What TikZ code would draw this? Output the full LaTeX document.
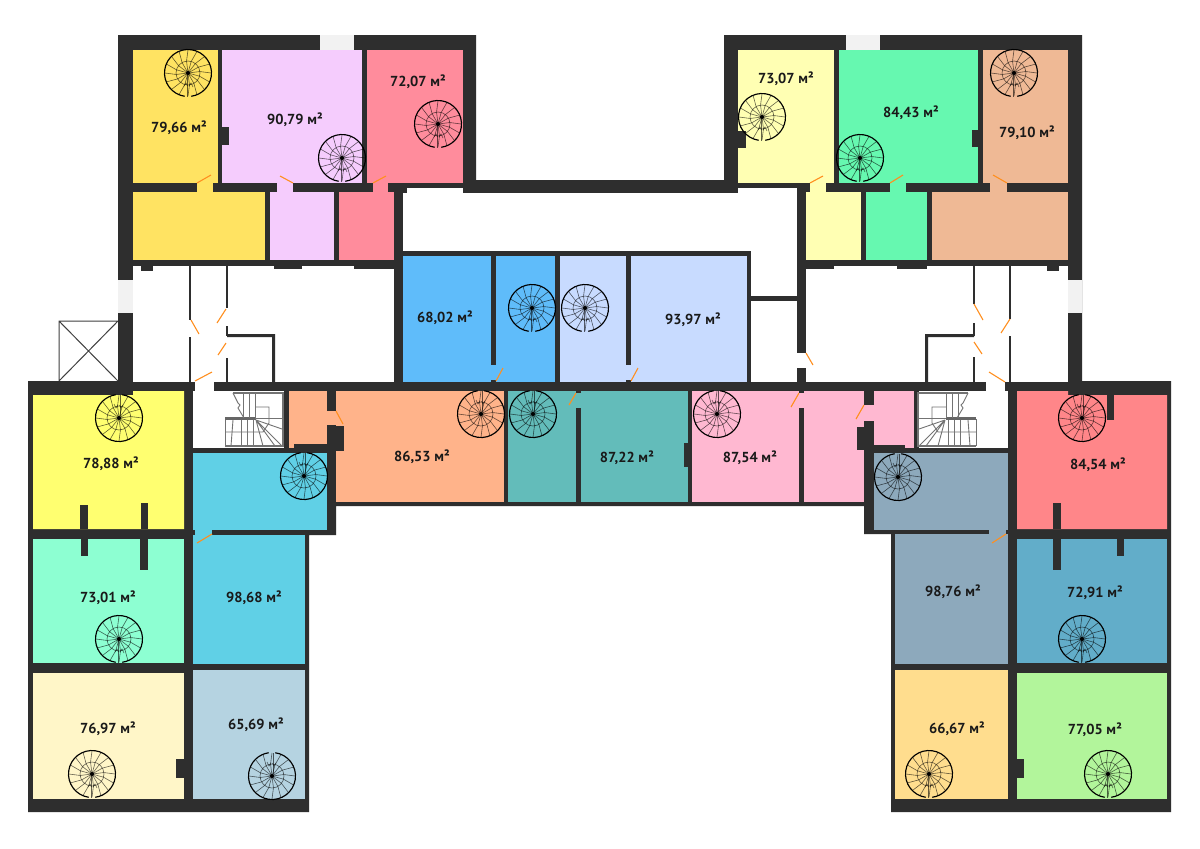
\documentclass[tikz,border=0pt]{standalone}
\usepackage{fontspec}
\setmainfont{PT Sans}
\definecolor{wall}{HTML}{2E2E2E}
\definecolor{wind}{HTML}{F2F2F2}
\definecolor{doorc}{HTML}{FF8F1F}
\definecolor{cA}{HTML}{FFE362}
\definecolor{cB}{HTML}{F5CCFD}
\definecolor{cC}{HTML}{FF8C9C}
\definecolor{cD}{HTML}{FFFFB3}
\definecolor{cE}{HTML}{66F8B0}
\definecolor{cF}{HTML}{EFB995}
\definecolor{cG}{HTML}{5FBCFA}
\definecolor{cH}{HTML}{C8DBFF}
\definecolor{cI}{HTML}{FFB38A}
\definecolor{cJ}{HTML}{63BCBA}
\definecolor{cK}{HTML}{FFB8D1}
\definecolor{cL}{HTML}{FFFF70}
\definecolor{cM}{HTML}{60D0E6}
\definecolor{cN}{HTML}{8DFFD2}
\definecolor{cO}{HTML}{FFF6C8}
\definecolor{cP}{HTML}{B5D3E1}
\definecolor{cQ}{HTML}{FF8689}
\definecolor{cR}{HTML}{8DA9BC}
\definecolor{cS}{HTML}{62ADC9}
\definecolor{cT}{HTML}{FFDD8E}
\definecolor{cU}{HTML}{B2F59B}
\tikzset{
  lab/.style={font=\fontsize{14.5}{16}\selectfont\bfseries,text=black!90,inner sep=0pt},
  doorline/.style={draw=doorc,line width=1.1pt},
  thin wall/.style={draw=wall,line width=2.2pt},
  stairline/.style={draw=black!55,line width=0.9pt},
}
\newcommand{\bx}[5]{\fill[#1] (#2,#3) rectangle (#4,#5);}
% spiral stair: centre x, y, rotation
\newcommand{\spiralstair}[3]{%
  \begin{scope}[shift={(#1,#2)},rotate=#3]
    \foreach \a in {0,22.5,...,337.5}{
      \draw[black,opacity=0.6,line width=0.6pt] (0,0) -- ({12*cos(\a-7)},{12*sin(\a-7)}) -- ({23*cos(\a)},{23*sin(\a)});
    }
    \draw[black,opacity=0.6,line width=0.6pt] (0,0) circle (12);
    \fill[black,opacity=0.0] (0,0) circle (1);
    \draw[black,line width=1.15pt] ({23.5*cos(98)},{23.5*sin(98)}) arc[start angle=98,end angle=442,radius=23.5];
    \draw[black,opacity=0.6,line width=0.6pt] (-1,2) -- (-1,23.5);
    \draw[black,opacity=0.6,line width=0.6pt] (-4,13) -- (-2,10) -- (-0.5,13) (1,13) -- (3,10) -- (5,14);
    \fill[black] (0,0) circle (2);
  \end{scope}}
% straight/winder stair in a box
\newcommand{\flatstair}[1]{%
  \begin{scope}[#1]
    \draw[stairline,line width=1.2pt] (233,393) -- (283,393) -- (283,446) -- (225,446);
    \draw[stairline] (225,419) -- (225,446);
    \draw[black!60,line width=2.4pt] (225,418.5) -- (255.5,418.5);
    \draw[stairline] (255,418.5) -- (283,418.5);
    \foreach \x in {243,249,255}{\draw[stairline] (\x,393) -- (\x,418);}
    \draw[stairline] (233,393) -- (238,403) -- (240,405) -- (238,408) -- (244,418);
    \draw[stairline] (255,407) -- (269,407) -- (269,423) -- (263,432) -- (225,432);
    \draw[stairline] (233,420) -- (231,446);
    \foreach \x in {241,247,253}{\draw[stairline] (\x,420) -- (\x,446);}
    \draw[stairline] (256,420) -- (282,429) (256,420) -- (282,446) (256,420) -- (263,446) (256,420) -- (275,446);
  \end{scope}}
\begin{document}
\begin{tikzpicture}[x=1pt,y=-1pt]
\useasboundingbox (0,0) rectangle (1200,849);
\fill[white] (0,0) rectangle (1200,849);
% balcony
\draw[black!75,line width=1pt] (118,321) -- (59,321) -- (59,381) (59,321) -- (118,381) (59,381) -- (118,321);
% silhouette
\fill[wall] (118,35) -- (476,35) -- (476,180) -- (724,180) -- (724,35) -- (1082,35) -- (1082,381) -- (1171,381) -- (1171,812) -- (891,812) -- (891,534) -- (864,534) -- (864,506) -- (336,506) -- (336,535) -- (309,535) -- (309,812) -- (28,812) -- (28,381) -- (118,381) -- cycle;
% white voids
\bx{white}{403}{193}{797}{251}
\bx{white}{407}{188}{463}{193}
\bx{white}{738}{188}{797}{193}
\bx{white}{751}{251}{797}{296}
\bx{white}{751}{300.5}{797}{382}
\bx{white}{797}{353}{806}{368}
\bx{white}{133}{266}{394}{382}
\bx{white}{806}{266}{1068}{382}
\bx{white}{195}{382}{214}{391}
\bx{white}{193}{391}{284}{448}
\bx{white}{986}{382}{1005}{391}
\bx{white}{919}{391}{1008}{448}
% windows
\bx{wind}{320}{35}{354}{50}
\bx{wind}{846}{35}{880}{50}
\bx{wind}{118}{280}{133}{313}
\bx{wind}{1068}{280}{1082}{313}
% top-left rooms
\bx{cA}{133}{50}{218}{183}
\bx{cB}{222}{50}{362}{183}
\bx{cC}{367}{50}{463}{183}
\bx{cA}{133}{192}{265}{260}
\bx{cB}{270}{192}{334}{260}
\bx{cC}{339}{192}{394}{260}
\bx{cA}{197}{183}{213}{192}
\bx{cB}{277}{183}{293}{192}
\bx{cC}{373}{183}{388}{192}
\bx{wall}{218}{127}{229}{145}
\bx{wall}{141}{266}{153}{271}
\bx{wall}{274}{266}{302}{269}
\bx{wall}{354}{266}{394}{269}
% top-right rooms
\bx{cD}{738}{50}{834}{183}
\bx{cE}{839}{50}{978}{183}
\bx{cF}{983}{50}{1068}{183}
\bx{cD}{806}{192}{861}{260}
\bx{cE}{866}{192}{927}{260}
\bx{cF}{932}{192}{1068}{260}
\bx{cD}{810}{183}{826}{192}
\bx{cE}{890}{183}{906}{192}
\bx{cF}{990}{183}{1007}{192}
\bx{wall}{738}{131}{746}{148}
\bx{wall}{972}{130}{978}{147}
\bx{wall}{806}{266}{834}{269}
\bx{wall}{897}{266}{927}{269}
\bx{wall}{1047}{266}{1059}{271}
% central upper block
\bx{cG}{403}{256}{555}{382}
\bx{cH}{560}{256}{747}{382}
\bx{wall}{491}{256}{496}{365}
\bx{wall}{491}{380}{496}{382}
\bx{wall}{626}{256}{631}{365}
\bx{wall}{626}{380}{631}{382}
% central lower block
\bx{cI}{289}{391}{327}{444}
\bx{cI}{289}{444}{294}{448}
\bx{cI}{327}{411}{336}{425}
\bx{cI}{336}{391}{504}{502}
\bx{wall}{327}{426}{344}{451}
\bx{cJ}{508}{391}{688}{502}
\bx{wall}{576}{408}{581}{506}
\bx{wall}{576}{391}{581}{393}
\bx{wall}{684}{443}{688}{467}
\bx{cK}{692}{391}{864}{502}
\bx{wall}{799}{408}{804}{506}
\bx{wall}{799}{391}{804}{393}
\bx{cK}{864}{405}{874}{421}
\bx{cK}{874}{391}{914}{445}
\bx{cK}{905}{445}{914}{448}
\bx{wall}{857}{427}{874}{450}
% left wing
\fill[cL] (33,395) -- (133,395) -- (133,391) -- (184,391) -- (184,529) -- (33,529) -- cycle;
\bx{wall}{80}{505}{88}{529}
\bx{wall}{141}{503}{148}{529}
\bx{cN}{33}{539}{184}{663}
\bx{wall}{80.5}{539}{88}{556}
\bx{wall}{140}{539}{148}{570}
\bx{cO}{33}{672.5}{184}{799}
\bx{wall}{176}{759}{184}{778}
\bx{cM}{193}{453}{327}{530}
\bx{cM}{194.5}{530}{212}{535}
\bx{cM}{193}{535}{305}{664}
\bx{cP}{193}{670}{305}{799}
% right wing
\fill[cQ] (1017,391) -- (1068,391) -- (1068,395) -- (1167,395) -- (1167,529) -- (1017,529) -- cycle;
\bx{wall}{1053}{503}{1061}{529}
\bx{wall}{1107}{391}{1114}{420}
\bx{cS}{1017}{539}{1167}{663}
\bx{wall}{1053}{539}{1061}{570}
\bx{wall}{1117}{539}{1124}{556}
\bx{cU}{1017}{672.5}{1167}{799}
\bx{wall}{1017}{759}{1024}{778}
\bx{cR}{874}{453}{1008}{530}
\bx{cR}{989}{530}{1006}{534}
\bx{cR}{895}{534}{1008}{664}
\bx{cT}{895}{670}{1008}{799}
% hall partitions, left
\draw[thin wall] (190,266) -- (190,320) (190,337) -- (190,382);
\draw[thin wall] (227,266) -- (227,308) (227,326) -- (227,336) (227,358) -- (227,382);
\fill[wall] (227,334) rectangle (275,337) (272,334) rectangle (275,382);
% hall partitions, right
\draw[thin wall] (974,266) -- (974,304) (974,323) -- (974,336) (974,357) -- (974,382);
\draw[thin wall] (1010,266) -- (1010,319) (1010,336) -- (1010,382);
\fill[wall] (925,334) rectangle (974,337) (925,334) rectangle (928,382);
% stair boxes
\flatstair{}
\flatstair{xshift=1201pt,xscale=-1}
% spiral stairs
\spiralstair{188}{73}{0}
\spiralstair{342}{158}{0}
\spiralstair{438}{124}{0}
\spiralstair{762}{117}{0}
\spiralstair{860}{158}{0}
\spiralstair{1014}{73}{0}
\spiralstair{532}{308}{0}
\spiralstair{585}{308}{0}
\spiralstair{481}{414}{180}
\spiralstair{533}{414}{180}
\spiralstair{717}{414}{180}
\spiralstair{119}{418}{180}
\spiralstair{304}{476}{180}
\spiralstair{119}{639}{0}
\spiralstair{92}{774}{0}
\spiralstair{272}{776}{180}
\spiralstair{1082}{418}{180}
\spiralstair{898}{477}{180}
\spiralstair{1082}{639}{0}
\spiralstair{929}{774}{0}
\spiralstair{1108}{774}{0}
% door leaves
\foreach \xa/\ya/\xb/\yb in {
 197/183/211/175, 293/183/280/176, 373/183/386/176,
 810/183/823/176, 890/183/903/175, 1007/183/993/175,
 191/320/199/334, 226/309/217/323, 226/343/218/355, 212/372/195/381,
 974/304/983/320, 1010/319/1001/333, 974/342/982/354, 989/372/1005/382,
 806/353/813/365, 864/405/856/419, 799/393/791/407,
 496/381/503/368, 631/381/638/368, 576/393/569/405,
 336/411/343/424, 212/534/197/543, 1006/534/992/543}{
  \draw[doorline] (\xa,\ya) -- (\xb,\yb);
}
% areas
\node[lab] (a1) at (179,128) {79,66 м²};
\node[lab] (a2) at (295,120) {90,79 м²};
\node[lab] (a3) at (418,82) {72,07 м²};
\node[lab] (a4) at (786,79) {73,07 м²};
\node[lab] (a5) at (911,113) {84,43 м²};
\node[lab] (a6) at (1027,133) {79,10 м²};
\node[lab] (a7) at (445,318) {68,02 м²};
\node[lab] (a8) at (693,320) {93,97 м²};
\node[lab] (a9) at (422,457) {86,53 м²};
\node[lab] (a10) at (627,458) {87,22 м²};
\node[lab] (a11) at (750,458) {87,54 м²};
\node[lab] (a12) at (111,464) {78,88 м²};
\node[lab] (a13) at (108,598) {73,01 м²};
\node[lab] (a14) at (254,598) {98,68 м²};
\node[lab] (a15) at (108,729) {76,97 м²};
\node[lab] (a16) at (256,725) {65,69 м²};
\node[lab] (a17) at (1098,465) {84,54 м²};
\node[lab] (a18) at (953,592) {98,76 м²};
\node[lab] (a19) at (1095,593) {72,91 м²};
\node[lab] (a20) at (957,729) {66,67 м²};
\node[lab] (a21) at (1095,730) {77,05 м²};
\end{tikzpicture}
\end{document}
